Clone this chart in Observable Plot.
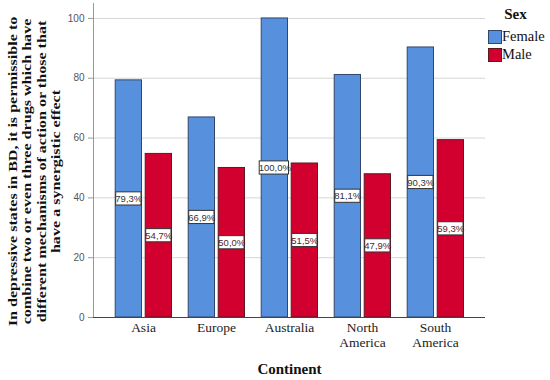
<!DOCTYPE html>
<html>
<head>
<meta charset="utf-8">
<script src="https://cdn.jsdelivr.net/npm/d3@7"></script>
<script src="https://cdn.jsdelivr.net/npm/@observablehq/plot@0.6"></script>
<style>
  body { margin: 0; background: #fff; }
  #wrap { position: relative; width: 550px; height: 380px; }
  .lg { position: absolute; font-family: "Liberation Serif", "Times New Roman", serif; color: #111; }
</style>
</head>
<body>
<div id="wrap"></div>
<script>
// ---- data ----
const continents = ["Asia", "Europe", "Australia", "North America", "South America"];
const female = [79.3, 66.9, 100.0, 81.1, 90.3];
const male = [54.7, 50.0, 51.5, 47.9, 59.3];
const sexes = ["Female", "Male"];
const yTicks = [0, 20, 40, 60, 80, 100];
const yLabelLines = [
  "In depressive states in BD, it is permissible to",
  "combine two or even three drugs which have",
  "different mechanisms of action or those that",
  "have a synergistic effect"
];
const xTitle = "Continent";
const legendTitle = "Sex";

// ---- styling ----
const FILL = {Female: "#5790dc", Male: "#d2002f"};
const EDGE = {Female: "#34466a", Male: "#5e1822"};
const SERIF = "'Liberation Serif', 'Times New Roman', serif";

const fRows = continents.map((c, i) => ({continent: c, sex: "Female", value: female[i]}));
const mRows = continents.map((c, i) => ({continent: c, sex: "Male", value: male[i]}));
const fmt = d => d.value.toFixed(1).replace(".", ",") + "%";
const half = 2.2;

const plot = Plot.plot({
  width: 550,
  height: 380,
  marginLeft: 93,
  marginRight: 65,
  marginTop: 3,
  marginBottom: 63,
  style: {fontFamily: "'Liberation Sans', Arial, sans-serif", background: "#fff", overflow: "visible"},
  x: {domain: continents, paddingInner: 0.2, paddingOuter: 0.27, align: 0.5},
  y: {domain: [0, 105]},
  marks: [
    Plot.gridY(yTicks, {stroke: "#d6d6d6", strokeOpacity: 1}),
    Plot.axisY(yTicks, {tickSize: 5, tickPadding: 4, fontSize: 10, color: "#555", stroke: "#999", label: null}),
    Plot.axisX({tickSize: 0, tickPadding: 4, fontSize: 13.5, fontFamily: SERIF, color: "#222", lineHeight: 1.1,
                tickFormat: d => d.replace(" ", "\n"), label: null}),
    Plot.barY(fRows, {x: "continent", y: "value", fill: FILL.Female, stroke: EDGE.Female, strokeWidth: 1,
                      insetLeft: 1.2, insetRight: 30.5}),
    Plot.barY(mRows, {x: "continent", y: "value", fill: FILL.Male, stroke: EDGE.Male, strokeWidth: 1,
                      insetLeft: 31.2, insetRight: 0.5}),
    Plot.frame({anchor: "left", stroke: "#999"}),
    Plot.ruleY([0], {stroke: "#444"}),
    // label boxes
    Plot.barY(fRows.filter(d => fmt(d).length <= 5), {x: "continent", y1: d => d.value / 2 - half, y2: d => d.value / 2 + half,
                      fill: "#fff", stroke: "#333", insetLeft: 1.7, insetRight: 31.0}),
    Plot.barY(fRows.filter(d => fmt(d).length > 5), {x: "continent", y1: d => d.value / 2 - half, y2: d => d.value / 2 + half,
                      fill: "#fff", stroke: "#333", insetLeft: -0.8, insetRight: 29.5}),
    Plot.barY(mRows, {x: "continent", y1: d => d.value / 2 - half, y2: d => d.value / 2 + half,
                      fill: "#fff", stroke: "#333", insetLeft: 31.7, insetRight: 1.0}),
    Plot.text(fRows, {x: "continent", y: d => d.value / 2, text: fmt, dx: -14.7, fontSize: 9.5, fill: "#333"}),
    Plot.text(mRows, {x: "continent", y: d => d.value / 2, text: fmt, dx: 15.3, fontSize: 9.5, fill: "#5a1a25"}),
    // titles
    Plot.text([xTitle], {text: d => d, frameAnchor: "bottom", dy: 52, lineAnchor: "middle",
                         fontFamily: SERIF, fontWeight: "bold", fontSize: 15, fill: "#111"}),
    Plot.text([yLabelLines.join("\n")], {text: d => d, frameAnchor: "left", rotate: -90, dx: -59.5, dy: 11,
                         lineAnchor: "middle", textAnchor: "middle", lineHeight: 1.115,
                         fontFamily: SERIF, fontWeight: "bold", fontSize: 13, fill: "#111"})
  ]
});

// stretch the rotated y-axis title along its reading direction (as in the reference)
d3.select(plot).selectAll("text")
  .filter(function () { return this.textContent.startsWith(yLabelLines[0]); })
  .each(function () {
    const tr = this.getAttribute("transform") || "";
    this.setAttribute("transform", tr + " scale(1.24,1)");
  });

const wrap = document.getElementById("wrap");
wrap.appendChild(plot);

// ---- legend (HTML, top right) ----
const t = document.createElement("div");
t.className = "lg";
t.textContent = legendTitle;
Object.assign(t.style, {left: "480px", top: "6px", width: "71px", textAlign: "center", fontWeight: "bold", fontSize: "15px", lineHeight: "17px"});
wrap.appendChild(t);
sexes.forEach((s, i) => {
  const sw = document.createElement("div");
  Object.assign(sw.style, {position: "absolute", left: "488px", top: (30 + 17.5 * i) + "px", width: "12px", height: "12px",
    background: FILL[s], border: "1px solid " + EDGE[s]});
  wrap.appendChild(sw);
  const lb = document.createElement("div");
  lb.className = "lg";
  lb.textContent = s;
  Object.assign(lb.style, {left: "502px", top: (28 + 17.5 * i) + "px", fontSize: "14.5px", lineHeight: "17px"});
  wrap.appendChild(lb);
});
</script>
</body>
</html>
